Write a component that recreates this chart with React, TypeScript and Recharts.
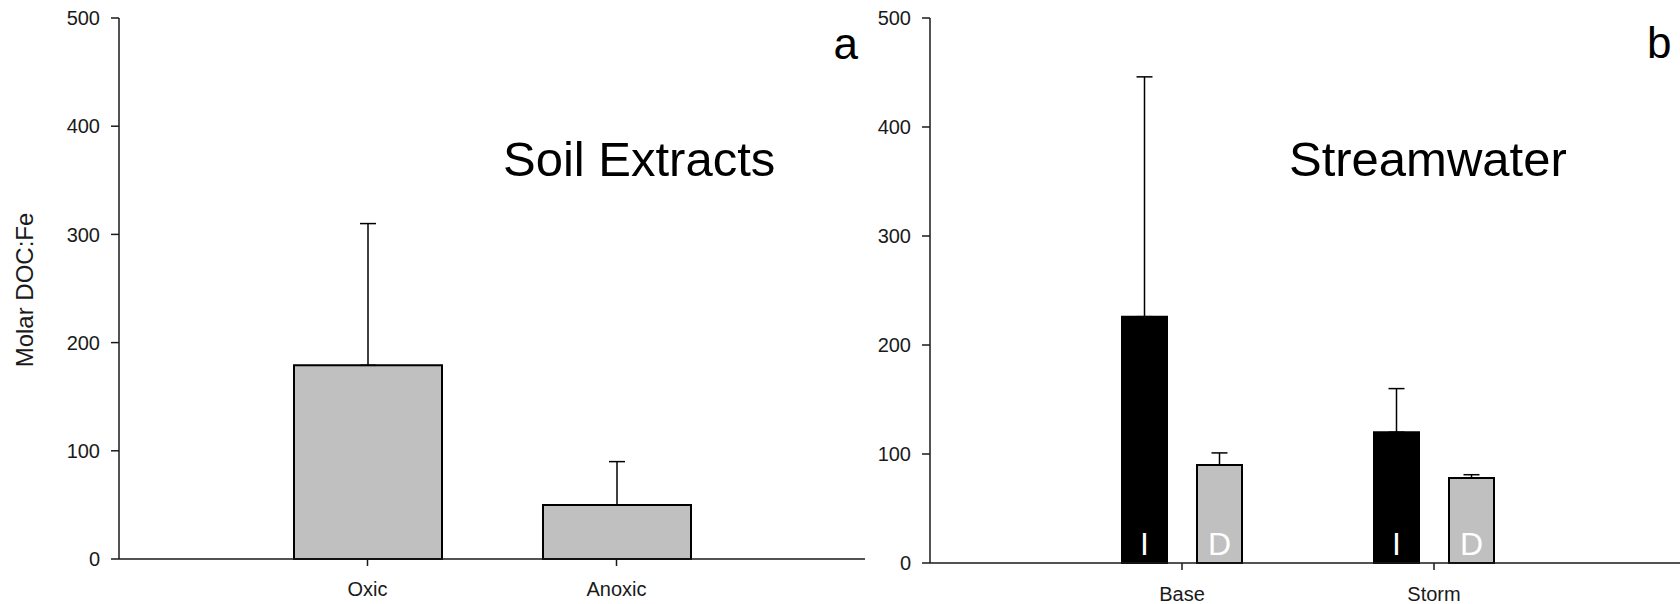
import { Bar, BarChart, ErrorBar, LabelList, XAxis, YAxis } from "recharts"

// panel a: soil extracts
const soilCategories = ["Oxic", "Anoxic"]
const soilMeans = [179, 50]
const soilUpperErr = [131, 40]

// panel b: streamwater, I and D bars
const streamCategories = ["Base", "Storm"]
const streamI = [226, 120]
const streamIUpperErr = [220, 40]
const streamD = [90, 78]
const streamDUpperErr = [11, 3]
const barTags = ["I", "D"]

const yTicks = [0, 100, 200, 300, 400, 500]

const FONT = '"Liberation Sans", Arial, Helvetica, sans-serif'
const INK = "#1a1a1a"
const GREY = "#c0c0c0"

const soilData = soilCategories.map((cat, i) => ({
  cat,
  mean: soilMeans[i],
  err: [0, soilUpperErr[i]],
}))

const streamData = streamCategories.map((cat, i) => ({
  cat,
  i: streamI[i],
  iErr: [0, streamIUpperErr[i]],
  iTag: barTags[0],
  d: streamD[i],
  dErr: [0, streamDUpperErr[i]],
  dTag: barTags[1],
}))

const tickStyle = { fontSize: 20, fill: INK, fontFamily: FONT }
const catStyle = { fontSize: 20, fill: INK, fontFamily: FONT }

function Frame() {
  return (
    <>
      <XAxis
        xAxisId="top"
        orientation="top"
        dataKey="cat"
        height={0}
        tick={false}
        tickLine={false}
        stroke={INK}
        strokeWidth={1.5}
      />
      <YAxis
        yAxisId="right"
        orientation="right"
        width={0}
        domain={[0, 500]}
        tick={false}
        tickLine={false}
        stroke={INK}
        strokeWidth={1.5}
      />
    </>
  )
}

function SoilPanel() {
  return (
    <BarChart
      width={880}
      height={604}
      data={soilData}
      margin={{ top: 18, right: 15, bottom: 0, left: 0 }}
    >
      <XAxis
        dataKey="cat"
        height={45}
        padding={{ left: 124, right: 124 }}
        tickSize={7}
        tickMargin={16}
        tick={catStyle}
        stroke={INK}
        strokeWidth={1.5}
      />
      <YAxis
        domain={[0, 500]}
        ticks={yTicks}
        interval={0}
        width={119}
        tickSize={8}
        tickMargin={11}
        tick={tickStyle}
        stroke={INK}
        strokeWidth={1.5}
      />
      {Frame()}
      <Bar
        dataKey="mean"
        fill={GREY}
        stroke="#000"
        strokeWidth={2}
        barSize={148}
        isAnimationActive={false}
      >
        <ErrorBar dataKey="err" direction="y" width={8} stroke="#000" strokeWidth={1.5} />
      </Bar>
      <text
        x={33}
        y={290}
        transform="rotate(-90 33 290)"
        textAnchor="middle"
        fontSize={24}
        fontFamily={FONT}
        fill={INK}
      >
        Molar DOC:Fe
      </text>
      <text x={503} y={176} fontSize={49} fontFamily={FONT} fill="#000">
        Soil Extracts
      </text>
      <text x={858} y={59} textAnchor="end" fontSize={44} fontFamily={FONT} fill="#000">
        a
      </text>
    </BarChart>
  )
}

function StreamPanel() {
  return (
    <BarChart
      width={836}
      height={604}
      data={streamData}
      margin={{ top: 18, right: 10, bottom: 0, left: 0 }}
      barGap={30}
    >
      <XAxis
        dataKey="cat"
        height={41}
        padding={{ left: 126, right: 126 }}
        tickSize={7}
        tickMargin={17}
        tick={catStyle}
        stroke={INK}
        strokeWidth={1.5}
      />
      <YAxis
        domain={[0, 500]}
        ticks={yTicks}
        interval={0}
        width={70}
        tickSize={8}
        tickMargin={11}
        tick={tickStyle}
        stroke={INK}
        strokeWidth={1.5}
      />
      {Frame()}
      <Bar
        dataKey="i"
        fill="#000"
        stroke="#000"
        strokeWidth={2}
        barSize={45}
        isAnimationActive={false}
      >
        <ErrorBar dataKey="iErr" direction="y" width={8} stroke="#000" strokeWidth={1.5} />
        <LabelList
          dataKey="iTag"
          position="insideBottom"
          offset={8}
          fill="#fff"
          fontSize={32}
          fontFamily={FONT}
        />
      </Bar>
      <Bar
        dataKey="d"
        fill={GREY}
        stroke="#000"
        strokeWidth={2}
        barSize={45}
        isAnimationActive={false}
      >
        <ErrorBar dataKey="dErr" direction="y" width={8} stroke="#000" strokeWidth={1.5} />
        <LabelList
          dataKey="dTag"
          position="insideBottom"
          offset={8}
          fill="#fff"
          fontSize={32}
          fontFamily={FONT}
        />
      </Bar>
      <text x={429} y={176} fontSize={49} fontFamily={FONT} fill="#000">
        Streamwater
      </text>
      <text x={787} y={58} fontSize={44} fontFamily={FONT} fill="#000">
        b
      </text>
    </BarChart>
  )
}

export default function App() {
  return (
    <div
      style={{
        position: "absolute",
        left: 0,
        top: 0,
        width: 1680,
        height: 604,
        overflow: "hidden",
        background: "#fff",
      }}
    >
      <div style={{ position: "absolute", left: 0, top: 0 }}>
        <SoilPanel />
      </div>
      <div style={{ position: "absolute", left: 860, top: 0 }}>
        <StreamPanel />
      </div>
    </div>
  )
}
